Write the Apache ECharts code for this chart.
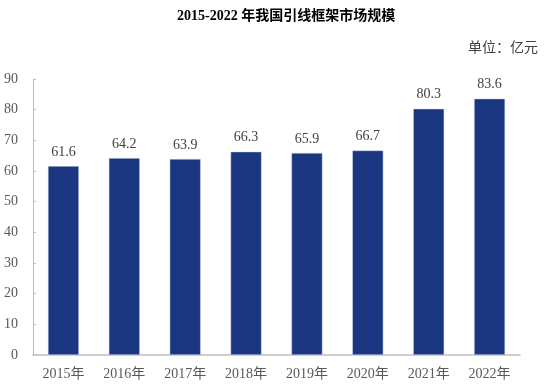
<!DOCTYPE html>
<html><head><meta charset="utf-8">
<script src="https://cdn.jsdelivr.net/npm/echarts@6/dist/echarts.min.js"></script>
<style>html,body{margin:0;padding:0;background:#fff}#c{width:546px;height:386px}</style>
</head><body><div id="c"></div>
<script>
const categories = ['2015年','2016年','2017年','2018年','2019年','2020年','2021年','2022年'];
const values = [61.6, 64.2, 63.9, 66.3, 65.9, 66.7, 80.3, 83.6];
const titleText = '2015-2022 年我国引线框架市场规模';
const unitText = '单位：亿元';
const serif = '"Liberation Serif","Times New Roman","Noto Sans CJK SC",serif';
const chart = echarts.init(document.getElementById('c'));
chart.setOption({
  animation: false,
  backgroundColor: '#fff',
  title: [{
    text: titleText, left: 172, top: 4,
    textStyle: {fontFamily: '"Liberation Serif","Noto Sans CJK SC",serif', fontWeight: 'bold', fontSize: 14, color: '#000'}
  }, {
    text: unitText, right: 3, top: 36,
    textStyle: {fontFamily: serif, fontWeight: 'normal', fontSize: 14, color: '#404040'}
  }],
  grid: {left: 33, right: 26, top: 79, bottom: 31, containLabel: false},
  xAxis: {
    type: 'category', data: categories,
    axisLine: {lineStyle: {color: '#bfbfbf', width: 1.5}},
    axisTick: {show: false},
    axisLabel: {fontFamily: serif, fontSize: 14, color: '#595959', margin: 12}
  },
  yAxis: {
    type: 'value', min: 0, max: 90, interval: 10,
    splitLine: {show: false},
    axisLine: {show: true, lineStyle: {color: '#bfbfbf', width: 1}},
    axisTick: {show: true, inside: true, length: 3, lineStyle: {color: '#bfbfbf'}},
    axisLabel: {fontFamily: serif, fontSize: 14, color: '#595959', margin: 15}
  },
  series: [{
    type: 'bar', data: values, barWidth: 31,
    itemStyle: {color: '#1a3680', borderColor: '#d6dbe8', borderWidth: 0.5},
    label: {show: true, position: 'top', distance: 7, fontFamily: serif, fontSize: 14, color: '#404040'}
  }]
});
</script></body></html>
